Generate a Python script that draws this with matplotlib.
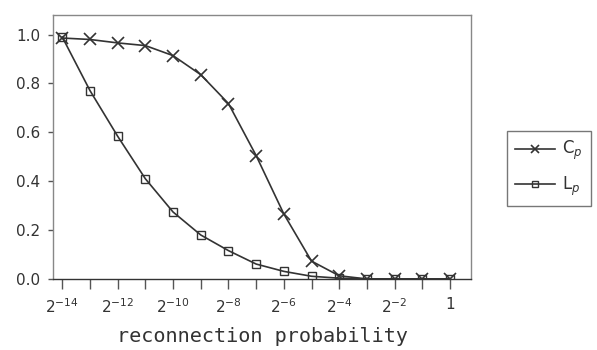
import numpy as np
import matplotlib.pyplot as plt

# exponents of 2 for the reconnection probability
exponents = [-14, -13, -12, -11, -10, -9, -8, -7, -6, -5, -4, -3, -2, -1, 0]
cp = [0.986, 0.980, 0.966, 0.955, 0.914, 0.836, 0.718, 0.505, 0.266, 0.073, 0.013, 0.0, 0.0, 0.0, 0.0]
lp = [0.990, 0.771, 0.584, 0.410, 0.274, 0.180, 0.116, 0.061, 0.031, 0.011, 0.003, 0.0, 0.0, 0.0, 0.0]
tick_exps = [-14, -12, -10, -8, -6, -4, -2, 0]
tick_labels = ['$2^{-14}$', '$2^{-12}$', '$2^{-10}$', '$2^{-8}$', '$2^{-6}$', '$2^{-4}$', '$2^{-2}$', '1']

ink = '#333333'
fig = plt.figure(figsize=(5.97, 3.5), dpi=100)
ax = fig.add_axes([0.089, 0.203, 0.700, 0.754])

ax.plot(exponents, cp, '-', color=ink, lw=1.2, marker='x', ms=8, mew=1.2, label='C$_p$')
ax.plot(exponents, lp, '-', color=ink, lw=1.2, marker='s', ms=6, mew=1.0,
        mfc='none', label='L$_p$')

ax.set_xlim(-14.33, 0.76)
ax.set_ylim(0.0, 1.08)
ax.set_xticks(exponents, minor=True)
ax.set_xticks(tick_exps)
ax.set_xticklabels(tick_labels)
ax.tick_params(axis='x', which='both', direction='out', length=7.5, width=1, color='#555555',
               labelsize=11, labelcolor=ink, pad=5.5)
ax.set_yticks([0.0, 0.2, 0.4, 0.6, 0.8, 1.0])
ax.set_yticklabels(['0.0', '0.2', '0.4', '0.6', '0.8', '1.0'])
ax.tick_params(axis='y', direction='out', length=3.5, width=1, color='#555555',
               labelsize=11, labelcolor=ink, pad=6)
for s in ax.spines.values():
    s.set_color('#888888')
    s.set_linewidth(1.0)
ax.spines['bottom'].set_color(ink)

ax.set_xlabel('reconnection probability', family='DejaVu Sans Mono', fontsize=14.5,
              color=ink, labelpad=8)

leg = ax.legend(loc='upper left', bbox_to_anchor=(0.849, 0.626), bbox_transform=fig.transFigure,
                borderaxespad=0, frameon=True, fancybox=False, edgecolor='#555555',
                fontsize=12, handlelength=2.4, handletextpad=0.4, markerscale=0.65,
                labelspacing=0.75, borderpad=0.5)
for t in leg.get_texts():
    t.set_color(ink)

fig.savefig('out.png', dpi=100)
